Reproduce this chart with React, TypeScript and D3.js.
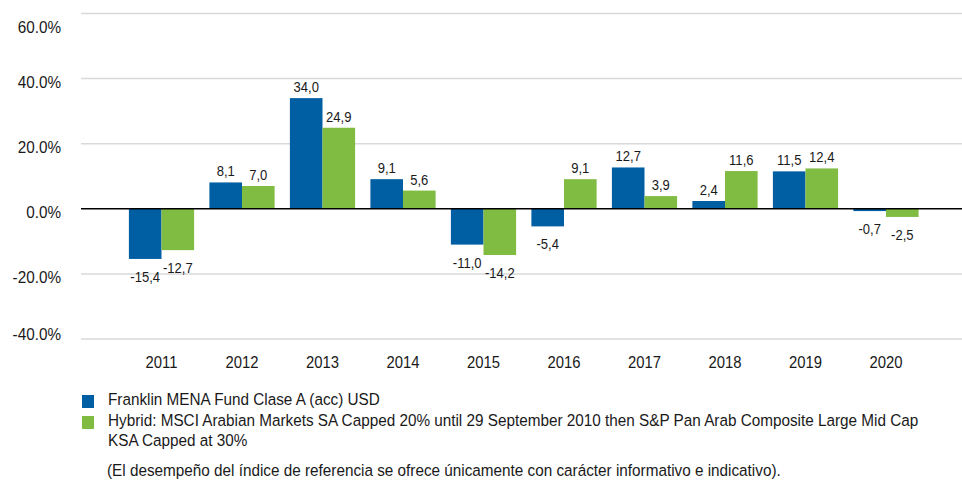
import React from "react";
import * as d3 from "d3";

const years = ["2011","2012","2013","2014","2015","2016","2017","2018","2019","2020"];
const fund = [-15.4, 8.1, 34.0, 9.1, -11.0, -5.4, 12.7, 2.4, 11.5, -0.7];
const bench = [-12.7, 7.0, 24.9, 5.6, -14.2, 9.1, 3.9, 11.6, 12.4, -2.5];
const yTicks = [-40, -20, 0, 20, 40, 60];
const seriesNames = [
  "Franklin MENA Fund Clase A (acc) USD",
  "Hybrid: MSCI Arabian Markets SA Capped 20% until 29 September 2010 then S&P Pan Arab Composite Large Mid Cap",
];
const seriesName2b = "KSA Capped at 30%";
const footnote = "(El desempeño del índice de referencia se ofrece únicamente con carácter informativo e indicativo).";
const colors = ["#005ea2", "#80bc41"];

const W = 962, H = 481;
const FONT = "'Liberation Sans', Arial, sans-serif";

function T(props: { x: number; y: number; size: number; anchor?: string; children: React.ReactNode }) {
  return (
    <text transform={`translate(${props.x},${props.y}) scale(0.9,1)`} textAnchor={props.anchor || "start"} fontSize={props.size} fill="#1a1a1a">
      {props.children}
    </text>
  );
}

export default function App() {
  const y = d3.scaleLinear().domain([-40, 60]).range([339, 13.5]);
  const x = d3.scaleBand<string>().domain(years).range([121.25, 926.25]).paddingInner(0.19).paddingOuter(0.095);
  const bw = x.bandwidth() / 2;
  const fmt = (v: number) => v.toFixed(1).replace(".", ",");
  const series = [fund, bench];
  return (
    <svg width={W} height={H} style={{ position: "absolute", left: 0, top: 0, background: "#fff" }} fontFamily={FONT}>
      {yTicks.filter(t => t !== 0).map(t => (
        <line key={t} x1={81} x2={962} y1={y(t)} y2={y(t)} stroke="#d9d9d9" strokeWidth={1.5} />
      ))}
      {yTicks.map(t => (
        <T key={"l" + t} x={61} y={Math.max(33, Math.min(340, y(t) + 9.5))} size={17} anchor="end">{t.toFixed(1) + "%"}</T>
      ))}
      {series.map((s, si) => s.map((v, i) => {
        const bx = (x(years[i]) as number) + si * bw;
        const y0 = y(0), yv = y(v);
        return (
          <g key={si + "-" + i}>
            <rect x={bx} y={Math.min(y0, yv)} width={bw} height={Math.abs(yv - y0)} fill={colors[si]} />
            <T x={bx + bw / 2} y={v >= 0 ? yv - 6 : yv + 23} size={14.5} anchor="middle">{fmt(v)}</T>
          </g>
        );
      }))}
      <line x1={81} x2={962} y1={y(0)} y2={y(0)} stroke="#000" strokeWidth={1.5} />
      {years.map(yr => (
        <T key={yr} x={(x(yr) as number) + x.bandwidth() / 2} y={367.5} size={16.5} anchor="middle">{yr}</T>
      ))}
      <rect x={82} y={395} width={12} height={13} fill={colors[0]} />
      <rect x={82} y={416} width={12} height={13} fill={colors[1]} />
      <T x={108} y={404.5} size={17}>{seriesNames[0]}</T>
      <T x={108} y={425.5} size={17}>{seriesNames[1]}</T>
      <T x={108} y={446} size={17}>{seriesName2b}</T>
      <T x={107} y={476} size={17}>{footnote}</T>
    </svg>
  );
}
